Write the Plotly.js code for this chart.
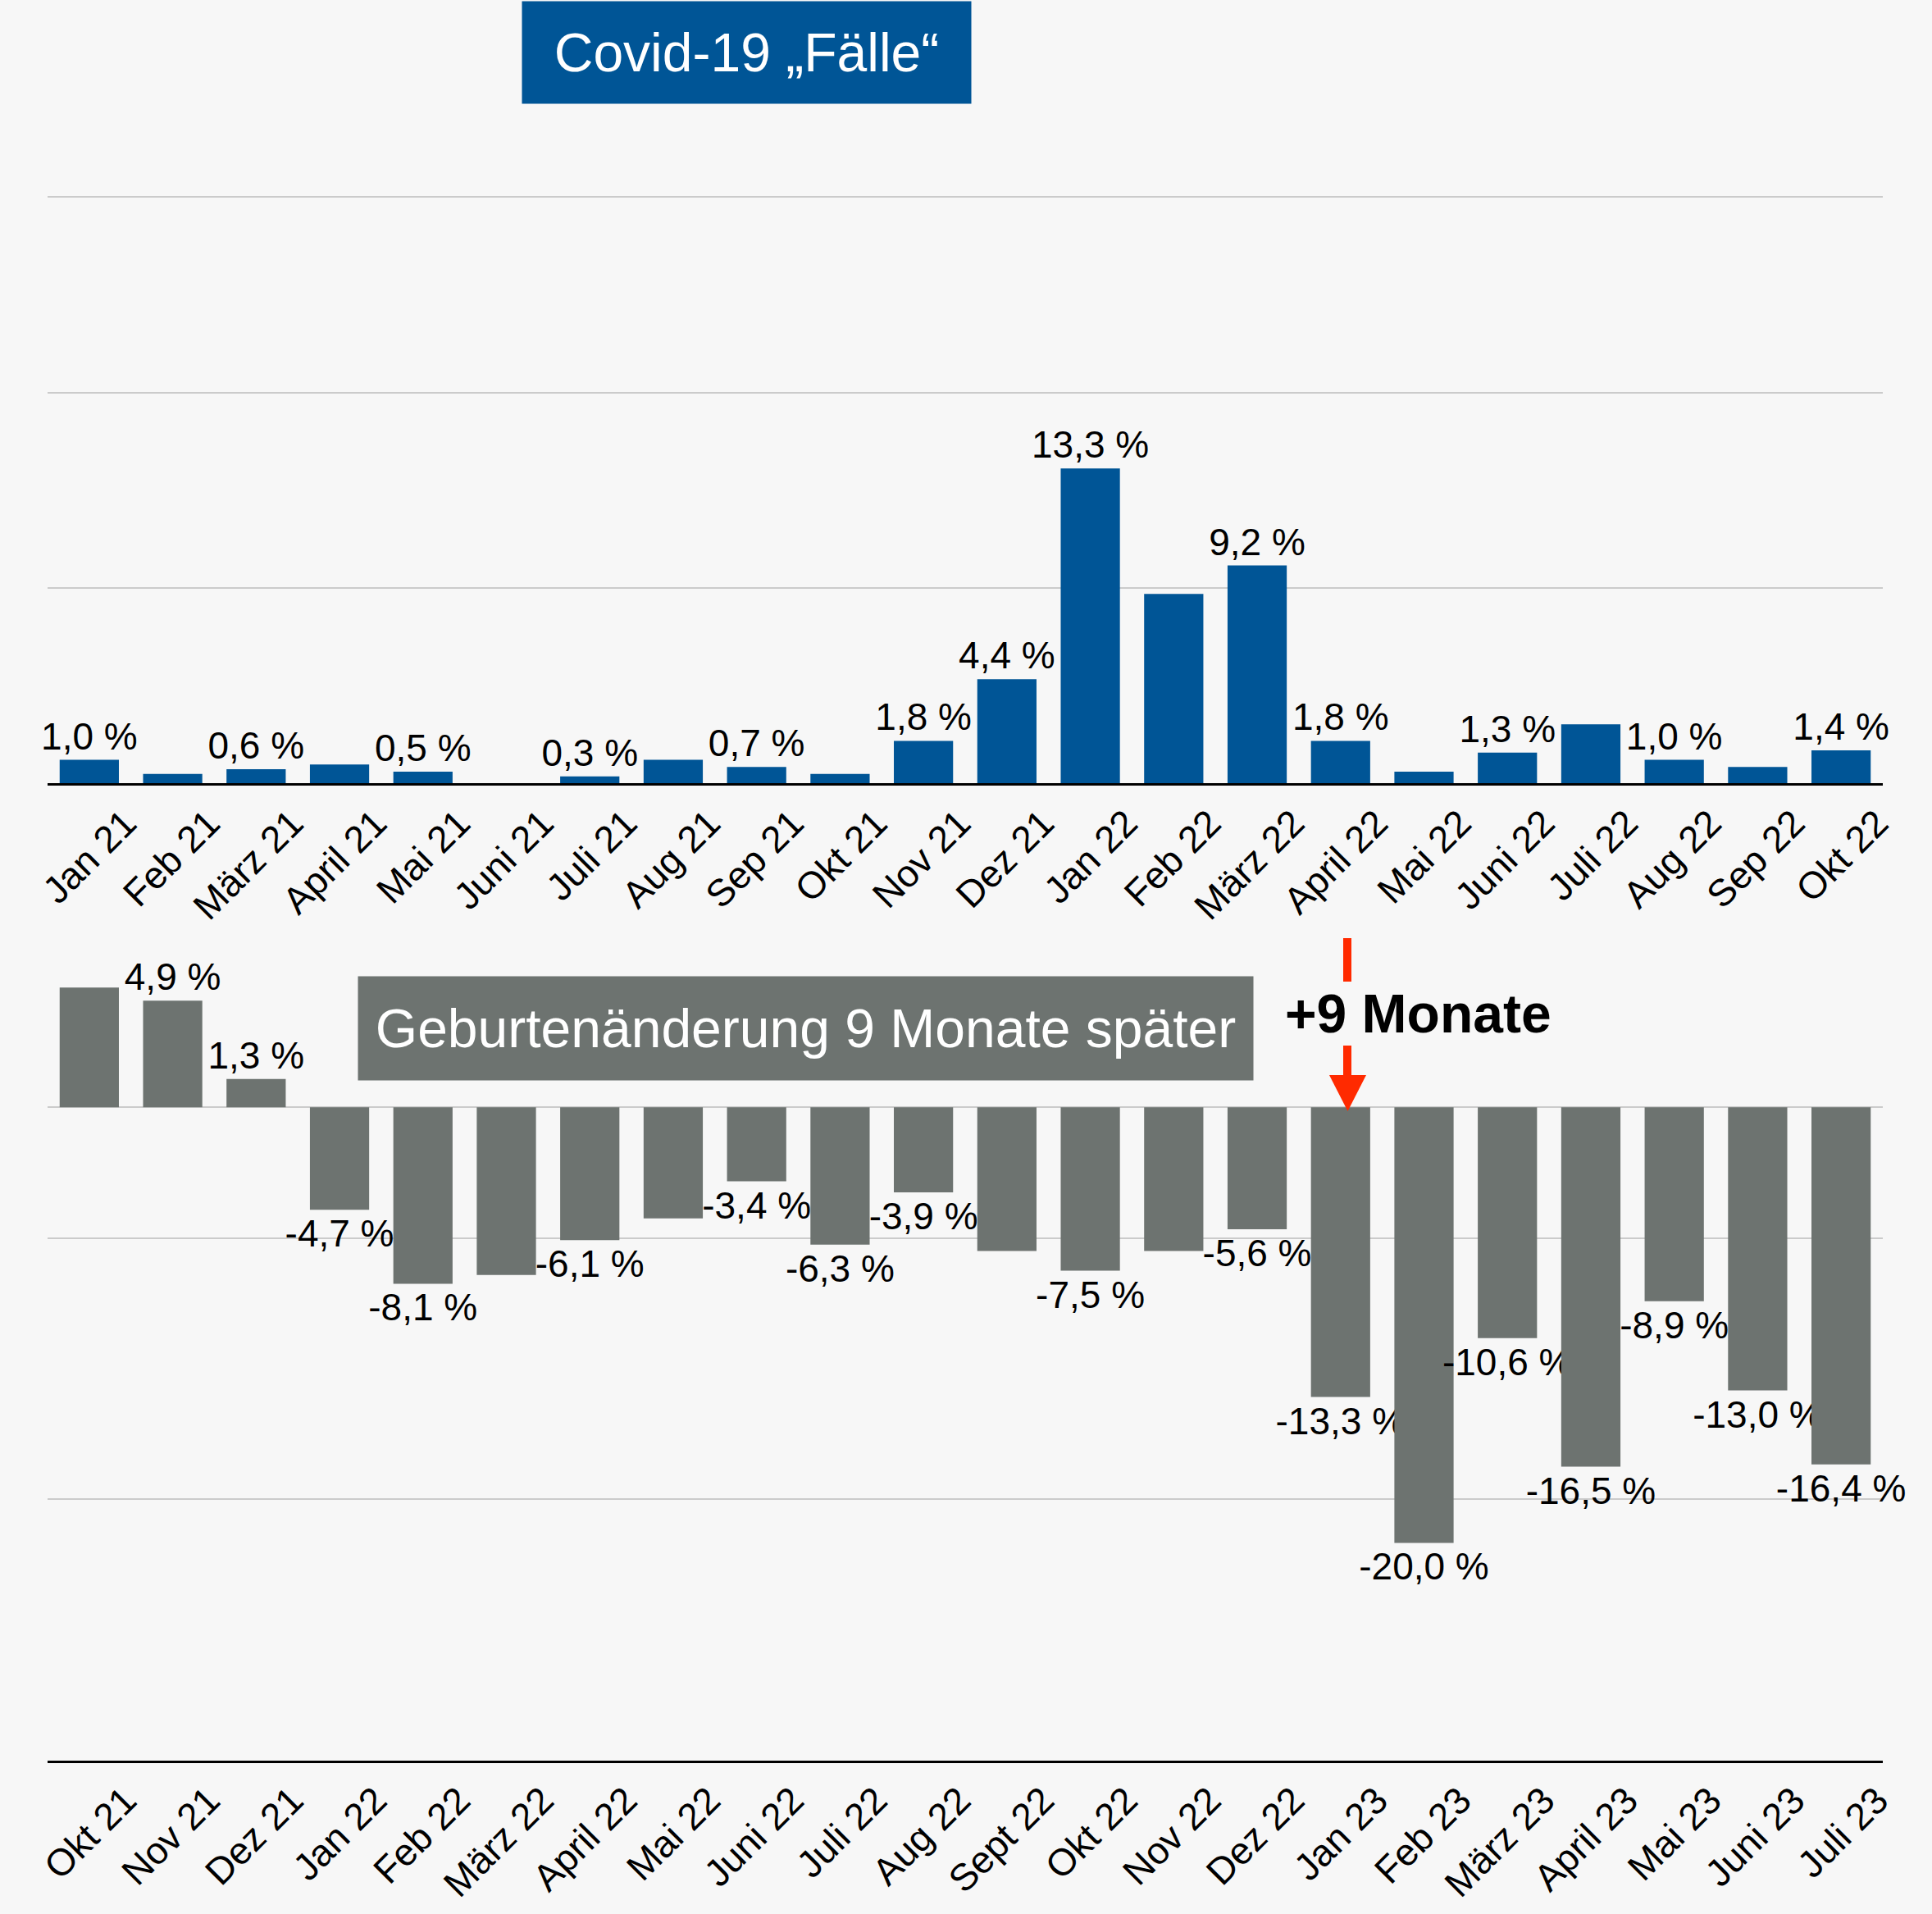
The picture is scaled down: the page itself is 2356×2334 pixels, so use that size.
<!DOCTYPE html>
<html><head><meta charset="utf-8">
<script src="https://cdn.plot.ly/plotly-3.0.1.min.js"></script>
<style>html,body{margin:0;padding:0;background:#f7f7f7;} #chart{width:2356px;height:2334px;}</style>
</head><body><div id="chart"></div>
<script>
// ---- data ----
const covidMonths = ['Jan 21','Feb 21','März 21','April 21','Mai 21','Juni 21','Juli 21','Aug 21','Sep 21','Okt 21','Nov 21','Dez 21','Jan 22','Feb 22','März 22','April 22','Mai 22','Juni 22','Juli 22','Aug 22','Sep 22','Okt 22'];
const covidChange = [1.0,0.4,0.6,0.8,0.5,0.0,0.3,1.0,0.7,0.4,1.8,4.4,13.3,8.0,9.2,1.8,0.5,1.3,2.5,1.0,0.7,1.4];
const covidLabeled = [1,0,1,0,1,0,1,0,1,0,1,1,1,0,1,1,0,1,0,1,0,1];

const birthMonths = ['Okt 21','Nov 21','Dez 21','Jan 22','Feb 22','März 22','April 22','Mai 22','Juni 22','Juli 22','Aug 22','Sept 22','Okt 22','Nov 22','Dez 22','Jan 23','Feb 23','März 23','April 23','Mai 23','Juni 23','Juli 23'];
const birthChange = [5.5,4.9,1.3,-4.7,-8.1,-7.7,-6.1,-5.1,-3.4,-6.3,-3.9,-6.6,-7.5,-6.6,-5.6,-13.3,-20.0,-10.6,-16.5,-8.9,-13.0,-16.4];
const birthLabeled = [0,1,1,1,1,0,1,0,1,1,1,0,1,0,1,1,1,1,1,1,1,1];

const titleCovid = 'Covid-19 „Fälle“';
const titleBirth = 'Geburtenänderung 9 Monate später';
const shiftLabel = '+9 Monate';

// ---- helpers ----
const W = 2356, H = 2334;
const px = v => v / W;
const py = v => 1 - v / H;
const fmt = (v, on) => on ? v.toFixed(1).replace('.', ',') + ' %' : '';

const BLUE = '#005596', GRAY = '#6d7370', RED = '#ff2a00', BG = '#f7f7f7', GRID = '#cbcbcb';
const FONT = 'Liberation Sans, Arial, sans-serif';

const traces = [
  {
    type: 'bar', x: covidMonths, y: covidChange, xaxis: 'x', yaxis: 'y',
    marker: {color: BLUE},
    text: covidChange.map((v, i) => fmt(v, covidLabeled[i])),
    textposition: 'outside', textangle: 0, constraintext: 'none', cliponaxis: false,
    textfont: {family: FONT, size: 46, color: '#000'},
    hoverinfo: 'skip'
  },
  {
    type: 'bar', x: birthMonths, y: birthChange, xaxis: 'x2', yaxis: 'y2',
    marker: {color: GRAY},
    text: birthChange.map((v, i) => fmt(v, birthLabeled[i])),
    textposition: 'outside', textangle: 0, constraintext: 'none', cliponaxis: false,
    textfont: {family: FONT, size: 46, color: '#000'},
    hoverinfo: 'skip'
  }
];

const xCommon = {
  type: 'category', showline: true, linecolor: '#000', linewidth: 3,
  ticks: '', tickangle: -45, tickfont: {family: FONT, size: 46, color: '#000'},
  ticklabelshift: 44,
  showgrid: false, zeroline: false, automargin: false, fixedrange: true,
  domain: [px(58), px(2296)]
};

const layout = {
  width: W, height: H,
  margin: {l: 0, r: 0, t: 0, b: 0},
  paper_bgcolor: BG, plot_bgcolor: BG,
  showlegend: false, bargap: 0.29,
  font: {family: FONT, color: '#000'},
  xaxis: Object.assign({}, xCommon, {anchor: 'y'}),
  yaxis: {
    domain: [py(955.4), py(2)], range: [0, 33], tick0: 0, dtick: 8.25,
    showticklabels: false, showgrid: true, gridcolor: GRID, gridwidth: 2,
    zeroline: false, fixedrange: true, automargin: false
  },
  xaxis2: Object.assign({}, xCommon, {anchor: 'y2'}),
  yaxis2: {
    domain: [py(2147), py(1191)], range: [-30, 6], tick0: 6, dtick: 12,
    showticklabels: false, showgrid: true, gridcolor: GRID, gridwidth: 2,
    zeroline: true, zerolinecolor: GRID, zerolinewidth: 2, fixedrange: true, automargin: false
  },
  annotations: [
    {xref: 'paper', yref: 'paper', x: px(910.5), y: py(64), xanchor: 'center', yanchor: 'middle',
     text: titleCovid, showarrow: false, bgcolor: BLUE, width: 547, height: 124, borderpad: 0,
     font: {family: FONT, size: 66, color: '#fff'}},
    {xref: 'paper', yref: 'paper', x: px(982.5), y: py(1254), xanchor: 'center', yanchor: 'middle',
     text: titleBirth, showarrow: false, bgcolor: GRAY, width: 1091, height: 126, borderpad: 0,
     font: {family: FONT, size: 66, color: '#fff'}},
    {xref: 'paper', yref: 'paper', x: px(1729), y: py(1236), xanchor: 'center', yanchor: 'middle',
     text: '<b>' + shiftLabel + '</b>', showarrow: false,
     font: {family: FONT, size: 66, color: '#000'}}
  ],
  shapes: [
    {type: 'line', xref: 'paper', yref: 'paper', x0: px(1643), x1: px(1643), y0: py(1144), y1: py(1197),
     line: {color: RED, width: 10}},
    {type: 'line', xref: 'paper', yref: 'paper', x0: px(1643), x1: px(1643), y0: py(1275), y1: py(1314),
     line: {color: RED, width: 10}},
    {type: 'path', xref: 'paper', yref: 'paper',
     path: `M ${px(1621)} ${py(1311)} L ${px(1666)} ${py(1311)} L ${px(1643.5)} ${py(1355)} Z`,
     fillcolor: RED, line: {color: RED, width: 0}}
  ]
};

Plotly.newPlot('chart', traces, layout, {displayModeBar: false, staticPlot: true});
</script>
</body></html>
